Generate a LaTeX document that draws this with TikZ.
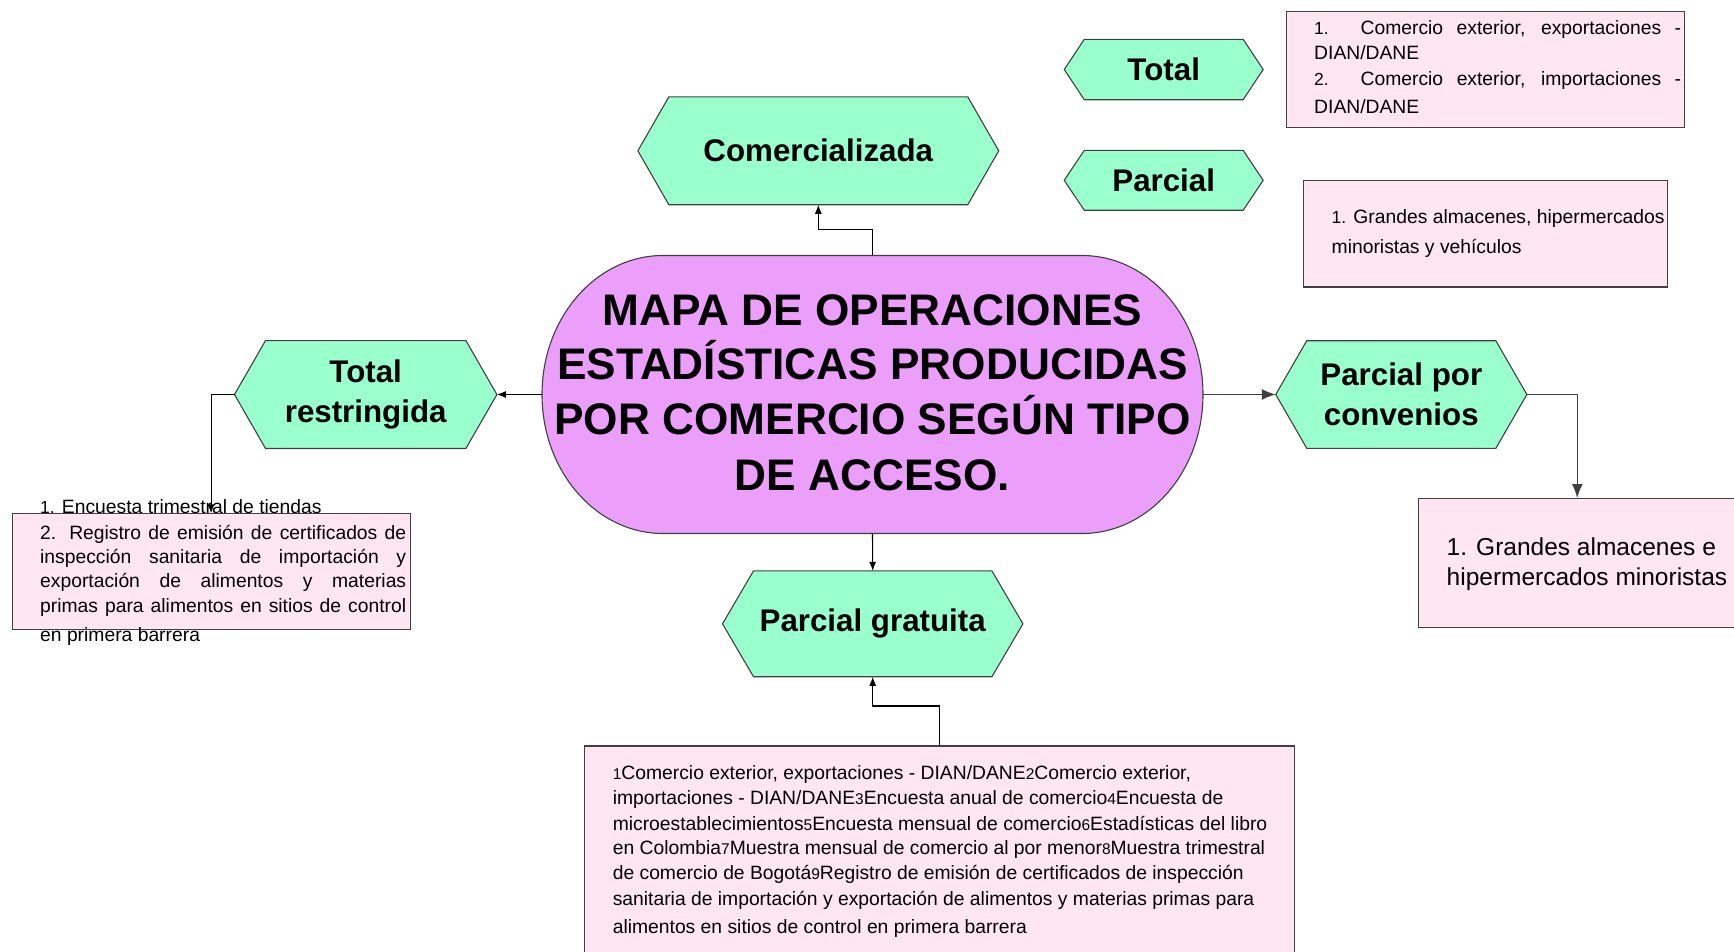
\documentclass[tikz,border=0pt]{standalone}
\usepackage{fontspec}
\setmainfont{Liberation Sans}
\usetikzlibrary{arrows.meta}
\pgfdeclarelayer{background}
\pgfsetlayers{background,main}
\definecolor{hexfill}{RGB}{153,255,204}
\definecolor{stadfill}{RGB}{235,158,250}
\definecolor{boxfill}{RGB}{255,230,240}
\definecolor{edgegray}{RGB}{64,64,64}
\newcommand{\smnum}[1]{{\fontsize{17.5}{17.5}\selectfont #1}}
\newcommand{\smdig}[1]{{\fontsize{15.5}{15.5}\selectfont #1}}
\newcommand{\drawhex}[2]{\path[hexshape] (#1.west) -- ([xshift=#2pt]#1.north west) -- ([xshift=-#2pt]#1.north east) -- (#1.east) -- ([xshift=-#2pt]#1.south east) -- ([xshift=#2pt]#1.south west) -- cycle;}
\begin{document}
\begin{tikzpicture}[x=1pt,y=-1pt,
  hexnode/.style={draw=none, inner sep=0pt, align=center, font=\fontsize{31.3}{39.5}\selectfont\bfseries},
  hexshape/.style={fill=hexfill, draw=edgegray, line width=1.1pt},
  boxnode/.style={draw=edgegray, fill=boxfill, line width=1.1pt, inner sep=0pt, anchor=north west},
  txt/.style={anchor=base west, inner sep=0pt, font=\fontsize{19.3}{23}\selectfont},
  bigtxt/.style={anchor=base west, inner sep=0pt, font=\fontsize{24.5}{30}\selectfont},
  conn/.style={draw=black, line width=1.1pt, -{Latex[length=9pt,width=7pt]}},
  bigconn/.style={draw=edgegray, line width=1.4pt, -{Latex[length=14pt,width=11pt]}},
  titleline/.style={anchor=base, inner sep=0pt, font=\fontsize{44.2}{55}\selectfont\bfseries}
]
\useasboundingbox (0,0) rectangle (1734,951);
\clip (0,0) rectangle (1734,951);

% central stadium
\path[fill=stadfill, draw=edgegray, line width=1.1pt] (663,255.5) -- (1082,255.5)
  arc[start angle=-90, end angle=90, x radius=121, y radius=139] -- (663,533.5)
  arc[start angle=90, end angle=270, x radius=121, y radius=139] -- cycle;
\node[inner sep=0pt, minimum width=661pt, minimum height=278pt] (main) at (872.5,394.5) {};
\node[titleline] (title1) at (872.5,325) {MAPA DE OPERACIONES};
\node[titleline] (title2) at (872.5,379.5) {ESTADÍSTICAS PRODUCIDAS};
\node[titleline] (title3) at (872.5,434.5) {POR COMERCIO SEGÚN TIPO};
\node[titleline] (title4) at (872.5,490) {DE ACCESO.};

% hexagons
\node[hexnode, minimum width=360.5pt, minimum height=107.5pt] (com) at (818.3,150.8) {Comercializada};
\node[hexnode, minimum width=198.5pt, minimum height=60pt] (tot) at (1163.7,69.5) {Total};
\node[hexnode, minimum width=198.5pt, minimum height=59.5pt] (par) at (1163.7,180.3) {Parcial};
\node[hexnode, minimum width=262pt, minimum height=107.5pt] (tres) at (365.7,394.5) {Total\\restringida};
\node[hexnode, minimum width=250.7pt, minimum height=107.2pt] (pconv) at (1401.3,394.5) {Parcial por\\convenios};
\node[hexnode, minimum width=300pt, minimum height=105.5pt] (pgrat) at (872.7,623.8) {Parcial gratuita};
\begin{pgfonlayer}{background}
\drawhex{com}{31}
\drawhex{tot}{20}
\drawhex{par}{20}
\drawhex{tres}{31}
\drawhex{pconv}{31}
\drawhex{pgrat}{31}
\end{pgfonlayer}

% list boxes
\node[boxnode, minimum width=398pt, minimum height=116pt] (listT) at (1286,11) {};
\node[boxnode, minimum width=364pt, minimum height=106.4pt] (listP) at (1302.7,180) {};
\node[boxnode, minimum width=398pt, minimum height=115.7pt] (listL) at (11.5,513.3) {};
\node[boxnode, minimum width=318pt, minimum height=129pt] (listR) at (1417.7,498) {};
\node[boxnode, minimum width=710pt, minimum height=220pt] (listB) at (584,745.4) {};

% texts of the Total list
\node[txt] (lt1) at (1314,34.5) {\makebox[367pt][s]{\smnum{1.} Comercio exterior, exportaciones -}};
\node[txt] (lt2) at (1314,59) {DIAN/DANE};
\node[txt] (lt3) at (1314,85.5) {\makebox[367pt][s]{\smnum{2.} Comercio exterior, importaciones -}};
\node[txt] (lt4) at (1314,113.5) {DIAN/DANE};

% texts of the Parcial list
\node[txt] (lp1) at (1331.5,223.5) {\smnum{1.} Grandes almacenes, hipermercados};
\node[txt] (lp2) at (1331.5,253) {minoristas y vehículos};

% texts of the left list
\node[txt] (ll1) at (40,513.5) {\smnum{1.} Encuesta trimestral de tiendas};
\node[txt] (ll2) at (40,539.5) {\makebox[366pt][s]{2. Registro de emisión de certificados de}};
\node[txt] (ll3) at (40,563.5) {\makebox[366pt][s]{inspección sanitaria de importación y}};
\node[txt] (ll4) at (40,587.8) {\makebox[366pt][s]{exportación de alimentos y materias}};
\node[txt] (ll5) at (40,612) {\makebox[366pt][s]{primas para alimentos en sitios de control}};
\node[txt] (ll6) at (40,641.5) {en primera barrera};

% texts of the right list
\node[bigtxt] (lr1) at (1446.5,555) {1. Grandes almacenes e};
\node[bigtxt] (lr2) at (1446.5,585.5) {hipermercados minoristas};

% texts of the bottom list
\node[txt] (lb1) at (612.6,779) {\smdig{1}Comercio exterior, exportaciones - DIAN/DANE\smdig{2}Comercio exterior,};
\node[txt] (lb2) at (612.6,804) {importaciones - DIAN/DANE\smdig{3}Encuesta anual de comercio\smdig{4}Encuesta de};
\node[txt] (lb3) at (612.6,830) {microestablecimientos\smdig{5}Encuesta mensual de comercio\smdig{6}Estadísticas del libro};
\node[txt] (lb4) at (612.6,854) {en Colombia\smdig{7}Muestra mensual de comercio al por menor\smdig{8}Muestra trimestral};
\node[txt] (lb5) at (612.6,879) {de comercio de Bogotá\smdig{9}Registro de emisión de certificados de inspección};
\node[txt] (lb6) at (612.6,905) {sanitaria de importación y exportación de alimentos y materias primas para};
\node[txt] (lb7) at (612.6,933) {alimentos en sitios de control en primera barrera};

% connectors
\draw[conn] (main.north) -- ++(0,-25.5) -| (com.south);
\draw[conn] (main.west) -- (tres.east);
\draw[conn] (tres.west) -| (listL.north);
\draw[conn] (main.south) -- (pgrat.north);
\draw[conn] (listB.north) -- ++(0,-39.4) -| (pgrat.south);
\draw[bigconn] (main.east) -- (pconv.west);
\draw[bigconn] (pconv.east) -| (listR.north);
\end{tikzpicture}
\end{document}
